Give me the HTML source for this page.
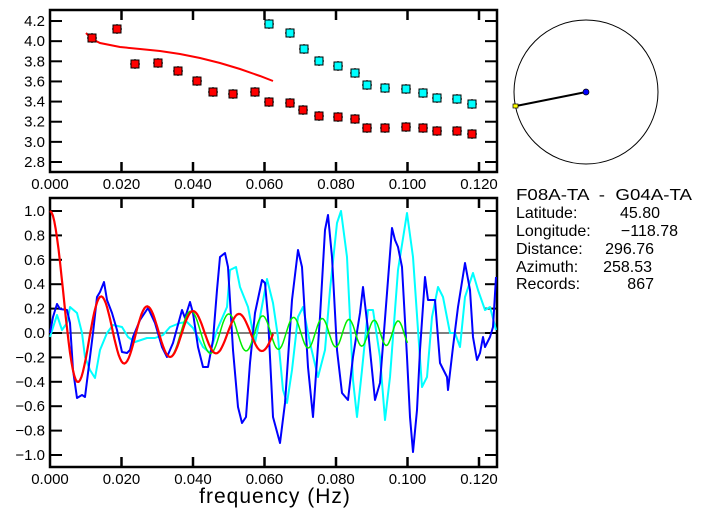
<!DOCTYPE html>
<html><head><style>
body{margin:0;background:#fff}
svg{display:block}
text{font-family:"Liberation Sans",sans-serif;fill:#000}
</style></head><body>
<svg id="s" width="702" height="519" viewBox="0 0 702 519" xmlns="http://www.w3.org/2000/svg">
<g id="g"></g>
<circle cx="586" cy="92" r="72" fill="none" stroke="#000" stroke-width="1"/>
<line x1="516" y1="106" x2="586" y2="92" stroke="#000" stroke-width="2"/>
<rect x="513" y="104" width="5" height="4" fill="#ff0" stroke="#000" stroke-width="0.7"/>
<circle cx="586" cy="92" r="3" fill="#00f" stroke="#000" stroke-width="0.7"/>
<g font-size="16">
<text x="516" y="200" textLength="176" lengthAdjust="spacingAndGlyphs" style="white-space:pre">F08A-TA  -  G04A-TA</text>
<text x="516" y="218">Latitude:</text><text x="660" y="218" text-anchor="end">45.80</text>
<text x="516" y="236">Longitude:</text><text x="678" y="236" text-anchor="end">−118.78</text>
<text x="516" y="254">Distance:</text><text x="654" y="254" text-anchor="end">296.76</text>
<text x="516" y="272">Azimuth:</text><text x="652" y="272" text-anchor="end">258.53</text>
<text x="516" y="289">Records:</text><text x="654" y="289" text-anchor="end">867</text>
</g>
<text x="275" y="503" font-size="21" text-anchor="middle" letter-spacing="1">frequency (Hz)</text>
</svg>
<script>
const g=document.getElementById('g');let h='';
const X=f=>50+f*3575;
const L=50,R=497;
const xl=["0.000","0.020","0.040","0.060","0.080","0.100","0.120"];
function frame(t,b){h+=`<rect x="${L}" y="${t}" width="${R-L}" height="${b-t}" fill="none" stroke="#000" stroke-width="2.5"/>`;
 for(let i=1;i<=6;i++){const x=X(i*0.02);h+=`<line x1="${x}" y1="${t}" x2="${x}" y2="${t+10}" stroke="#000" stroke-width="2.5"/><line x1="${x}" y1="${b}" x2="${x}" y2="${b-10}" stroke="#000" stroke-width="2.5"/>`;}
 for(let i=0;i<=6;i++){const x=X(i*0.02);h+=`<text x="${x}" y="${b+17}" font-size="15" text-anchor="middle">${xl[i]}</text>`;}
}
frame(10,172);frame(198,467);
const tl=["2.8","3.0","3.2","3.4","3.6","3.8","4.0","4.2"];
for(let i=0;i<8;i++){const y=162-i*20.14;
 h+=`<line x1="${L}" y1="${y}" x2="${L+12}" y2="${y}" stroke="#000" stroke-width="2"/><line x1="${R}" y1="${y}" x2="${R-12}" y2="${y}" stroke="#000" stroke-width="2"/>`;
 h+=`<text x="45" y="${y+5}" font-size="15" text-anchor="end">${tl[i]}</text>`;}
const Y=v=>333-v*122;
const bl=["\u22121.0","\u22120.8","\u22120.6","\u22120.4","\u22120.2","0.0","0.2","0.4","0.6","0.8","1.0"];
for(let i=0;i<=10;i++){const y=Y(-1+i*0.2);
 h+=`<line x1="${L}" y1="${y}" x2="${L+12}" y2="${y}" stroke="#000" stroke-width="2"/><line x1="${R}" y1="${y}" x2="${R-12}" y2="${y}" stroke="#000" stroke-width="2"/>`;
 h+=`<text x="45" y="${y+5}" font-size="15" text-anchor="end">${bl[i]}</text>`;}
h+=`<line x1="${L}" y1="333" x2="${R}" y2="333" stroke="#000" stroke-width="1"/>`;
h+=`<polyline fill="none" stroke="#f00" stroke-width="2" points="86,33 92,39 100,43 120,47 140,49 160,51 180,54 200,58 220,63 240,69 260,76 273,81"/>`;
function sq(x,y,c){h+=`<line x1="${x-5}" y1="${y}" x2="${x+5}" y2="${y}" stroke="#000" stroke-width="1"/><line x1="${x}" y1="${y-5}" x2="${x}" y2="${y+5}" stroke="#000" stroke-width="1"/><rect x="${x-4}" y="${y-4}" width="8" height="8" fill="${c}" stroke="#000" stroke-width="1"/>`;}
[[92,38],[117,29],[135,64],[158,63],[178,71],[197,81],[213,92],[233,94],[255,92],[269,102],[290,103],[303,110],[319,116],[338,117],[355,119],[367,128],[385,128],[406,127],[423,128],[437,131],[457,131],[472,134]].forEach(p=>sq(p[0],p[1],'#f00'));
[[269,24],[290,33],[304,49],[319,61],[338,66],[355,73],[367,85],[385,88],[406,89],[423,93],[437,98],[457,99],[472,104]].forEach(p=>sq(p[0],p[1],'#0ff'));
function J0(x){if(x<8){let s=0,t=1;for(let k=0;k<30;k++){if(k>0)t*=-(x*x/4)/(k*k);s+=t;}return s;}return Math.sqrt(2/(Math.PI*x))*(Math.cos(x-Math.PI/4)+Math.sin(x-Math.PI/4)/(8*x));}
let p=[];for(let f=0;f<=0.0625;f+=0.0004){p.push(X(f).toFixed(1)+','+Y(J0(490*f)).toFixed(1));}
let q=[];for(let f=0.004;f<=0.1;f+=0.0004){let a=490*f+(f>0.03?3500*(f-0.03)**2:0);q.push(X(f).toFixed(1)+','+Y(J0(a)).toFixed(1));}
const blue="50,333 53,317 57,304 60,309 67,310 70,323 73,370 77,398 82,395 85,397 88,373 93,333 97,297 100,292 104,282 107,300 112,313 117,330 122,352 127,353 130,350 133,337 140,320 148,308 155,323 162,347 167,357 173,343 182,310 185,318 190,302 193,313 198,347 203,367 208,367 213,340 217,290 220,257 225,253 228,267 233,350 238,407 242,423 246,417 250,363 255,313 262,280 265,283 268,317 273,417 280,443 285,403 292,300 298,250 302,267 308,367 313,417 320,317 325,230 328,215 332,257 337,350 342,393 348,400 353,357 360,313 363,287 368,330 375,400 380,383 387,293 392,228 395,240 398,247 402,267 407,357 410,417 413,452 417,410 420,350 425,277 428,300 435,300 440,363 447,377 448,390 453,347 458,307 465,263 470,290 473,337 477,360 480,353 483,337 485,347 490,337 493,327 496,277";
const cyan="50,337 57,315 62,330 67,323 70,307 77,313 82,333 85,357 90,370 95,378 100,350 107,333 113,325 122,327 128,337 135,342 147,338 155,338 163,335 170,327 180,323 187,322 193,328 203,347 210,353 217,330 227,307 230,270 236,267 240,287 248,307 255,343 260,317 267,279 273,303 278,337 283,390 287,403 292,370 298,317 303,307 310,343 318,377 325,350 330,290 337,223 341,211 347,257 353,380 357,417 362,370 368,310 373,310 380,357 385,420 390,377 398,270 407,213 413,257 418,330 422,387 427,377 432,317 438,287 443,297 450,333 455,333 460,347 465,297 473,273 478,290 485,310 490,307 496,330";
h+=`<polyline fill="none" stroke="#0ff" stroke-width="2" stroke-linejoin="round" points="${cyan}"/>`;
h+=`<polyline fill="none" stroke="#00f" stroke-width="2" stroke-linejoin="round" points="${blue}"/>`;
h+=`<polyline fill="none" stroke="#0e0" stroke-width="1.5" points="${q.join(' ')}"/>`;
h+=`<polyline fill="none" stroke="#f00" stroke-width="2.2" points="${p.join(' ')}"/>`;
g.innerHTML=h;
</script>
</body></html>
